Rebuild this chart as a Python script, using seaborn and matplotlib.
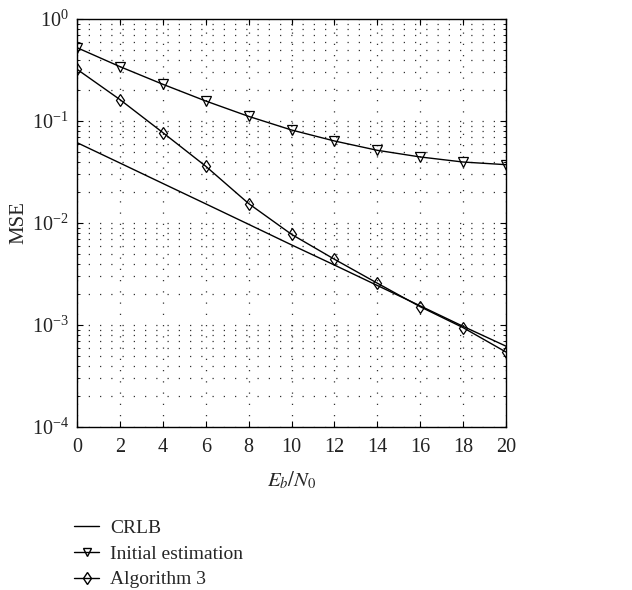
import numpy as np
import pandas as pd
import matplotlib
matplotlib.use("Agg")
import matplotlib.pyplot as plt
import seaborn as sns
from matplotlib.lines import Line2D
from matplotlib.ticker import LogLocator, LogFormatterMathtext, MultipleLocator, NullFormatter

ebn0 = [0, 2, 4, 6, 8, 10, 12, 14, 16, 18, 20]
crlb = [0.0613, 0.0387, 0.0244, 0.0154, 0.0097, 0.0061, 0.00387, 0.00244, 0.00154, 0.00097, 0.00062]
initial = [0.523, 0.341, 0.229, 0.157, 0.111, 0.0816, 0.0637, 0.0516, 0.0444, 0.0396, 0.0373]
alg3 = [0.321, 0.162, 0.0769, 0.036, 0.0155, 0.00774, 0.00441, 0.00257, 0.00151, 0.000942, 0.000543]
labels = ["CRLB", "Initial estimation", "Algorithm 3"]

sns.set_style("ticks")
plt.rcParams['font.family'] = ['Liberation Serif', 'DejaVu Serif']
plt.rcParams['mathtext.fontset'] = 'stix'

fig = plt.figure(figsize=(6.32, 5.90), dpi=100)
ax = fig.add_axes([0.122, 0.2763, 0.6786, 0.6915])

df = pd.DataFrame({"x": ebn0 * 3,
                   "y": crlb + initial + alg3,
                   "s": [labels[0]] * 11 + [labels[1]] * 11 + [labels[2]] * 11})

markers = {labels[0]: "", labels[1]: "v", labels[2]: "d"}
for lab in labels:
    sub = df[df.s == lab]
    sns.lineplot(data=sub, x="x", y="y", ax=ax, color="black", lw=1.0,
                 marker=markers[lab] if markers[lab] else None,
                 markersize=6.5, markerfacecolor="none", markeredgecolor="black",
                 markeredgewidth=0.9, legend=False)

ax.set_yscale("log")
ax.set_xlim(0, 20)
ax.set_ylim(1e-4, 1)
ax.xaxis.set_major_locator(MultipleLocator(2))
ax.yaxis.set_major_locator(LogLocator(base=10, numticks=10))
ax.yaxis.set_major_formatter(LogFormatterMathtext())
ax.yaxis.set_minor_locator(LogLocator(base=10, subs=np.arange(2, 10), numticks=20))
ax.yaxis.set_minor_formatter(NullFormatter())

ax.grid(True, which="major", axis="both", linestyle=(0, (1, 8)), color="#333333", lw=0.9)
ax.grid(True, which="minor", axis="y", linestyle=(0, (1, 8)), color="#333333", lw=0.9)

for sp in ax.spines.values():
    sp.set_visible(True)
    sp.set_color("black")
    sp.set_linewidth(1.0)

ax.tick_params(which="both", direction="in", top=True, right=True, labelsize=14.5, colors="black")
ax.tick_params(which="major", length=4.5)
ax.tick_params(which="minor", length=2.5)
ax.tick_params(axis="x", pad=8)
ax.tick_params(axis="y", pad=6)
for t in ax.get_xticklabels() + ax.get_yticklabels():
    t.set_color("#222222")

ax.set_xlabel("$E_b/N_0$", fontsize=15, labelpad=9)
ax.set_ylabel("MSE", fontsize=15, labelpad=2)

handles = [Line2D([0], [0], color="black", lw=1.0),
           Line2D([0], [0], color="black", lw=1.0, marker="v", markersize=6,
                  markerfacecolor="none", markeredgecolor="black"),
           Line2D([0], [0], color="black", lw=1.0, marker="d", markersize=6,
                  markerfacecolor="none", markeredgecolor="black")]
fig.legend(handles, labels, loc="upper left", bbox_to_anchor=(0.105, 0.133),
           frameon=False, fontsize=14, handlelength=1.3, handletextpad=0.55,
           labelspacing=0.42, borderaxespad=0)

fig.savefig("out.png", dpi=100)
